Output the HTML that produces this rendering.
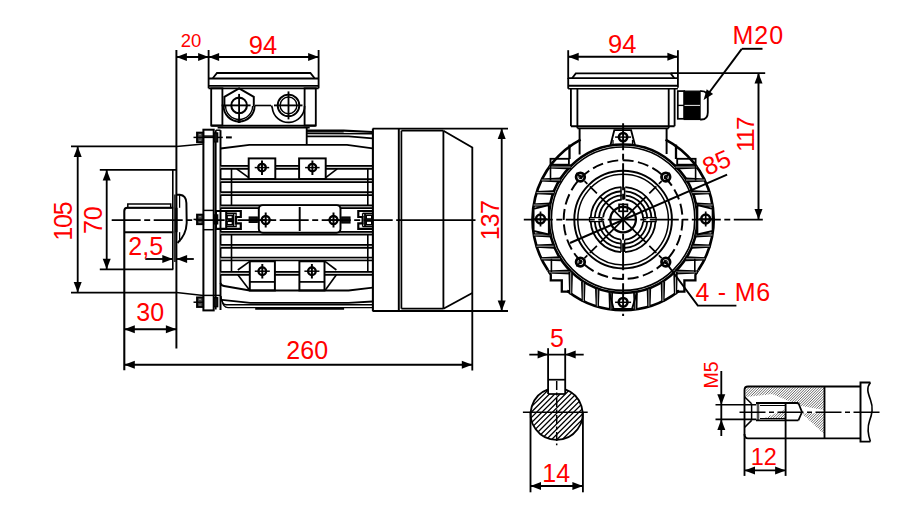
<!DOCTYPE html>
<html><head><meta charset="utf-8"><style>
html,body{margin:0;padding:0;background:#fff;}
svg{display:block;}
text{font-family:"Liberation Sans",sans-serif;fill:#ff0000;stroke:none;}
</style></head><body>
<svg width="905" height="506" viewBox="0 0 905 506" stroke="#000" stroke-linecap="butt">
<line x1="176.4" y1="50.0" x2="176.4" y2="348.5" stroke-width="1.95" />
<line x1="208.6" y1="50.0" x2="208.6" y2="88.3" stroke-width="1.84" />
<line x1="318.6" y1="50.0" x2="318.6" y2="88.3" stroke-width="1.84" />
<line x1="176.4" y1="57.0" x2="318.6" y2="57.0" stroke-width="1.95" />
<polygon points="176.4,57.0 186.9,53.0 186.9,61.0" fill="#000" stroke="none"/>
<polygon points="208.6,57.0 198.1,61.0 198.1,53.0" fill="#000" stroke="none"/>
<polygon points="208.6,57.0 219.1,53.0 219.1,61.0" fill="#000" stroke="none"/>
<polygon points="318.6,57.0 308.1,61.0 308.1,53.0" fill="#000" stroke="none"/>
<text x="191.0" y="46.7" font-size="18.5" text-anchor="middle" >20</text>
<text x="263.0" y="53.7" font-size="25.5" text-anchor="middle" >94</text>
<polyline points="212.8,78.3 217.0,73.0 310.4,73.0 314.6,78.3" stroke-width="1.84" fill="none" />
<line x1="208.6" y1="78.5" x2="318.6" y2="78.5" stroke-width="1.84" />
<line x1="208.6" y1="85.8" x2="318.6" y2="85.8" stroke-width="1.84" />
<line x1="208.6" y1="88.3" x2="318.6" y2="88.3" stroke-width="1.84" />
<rect x="211.2" y="88.3" width="11.2" height="37.2" rx="0" stroke-width="1.84" fill="none"/>
<rect x="304.6" y="88.3" width="11.2" height="37.2" rx="0" stroke-width="1.84" fill="none"/>
<line x1="211.2" y1="125.7" x2="315.8" y2="125.7" stroke-width="1.95" />
<line x1="217.6" y1="127.8" x2="309.7" y2="127.8" stroke-width="1.38" />
<polyline points="224.4,106.5 224.4,96.8 239.1,88.4 253.8,96.8 253.8,106.5" stroke-width="1.95" fill="none" />
<path d="M223.6,106 A15.5,15.5 0 0 0 254.6,106" stroke-width="1.95" fill="none" />
<path d="M225.6,106 A13.5,13.5 0 0 0 252.6,106" stroke-width="1.38" fill="none" />
<line x1="239.1" y1="120.0" x2="239.1" y2="123.0" stroke-width="2.88" />
<circle cx="239.1" cy="105.4" r="7.8" stroke-width="2.07" fill="none" />
<line x1="221.6" y1="105.4" x2="250.6" y2="105.4" stroke-width="1.84" />
<line x1="239.1" y1="93.9" x2="239.1" y2="122.9" stroke-width="1.84" />
<line x1="255.0" y1="105.5" x2="271.0" y2="105.5" stroke-width="1.61" />
<circle cx="288.5" cy="105.4" r="10.8" stroke-width="1.84" fill="none" />
<circle cx="288.5" cy="105.4" r="8.4" stroke-width="1.38" fill="none" />
<line x1="274.0" y1="105.4" x2="302.5" y2="105.4" stroke-width="1.84" />
<line x1="288.5" y1="91.4" x2="288.5" y2="119.4" stroke-width="1.84" />
<path d="M271.5,105.4 L272.3,108 A16.2,16.2 0 0 0 304.6,106" stroke-width="1.72" fill="none" />
<rect x="203.4" y="129.7" width="10.3" height="180.7" stroke-width="2.0" fill="none" stroke-linejoin="miter"/>
<line x1="203.4" y1="136.1" x2="213.7" y2="136.1" stroke-width="1.49" />
<line x1="203.4" y1="295.4" x2="221.0" y2="295.4" stroke-width="1.49" />
<line x1="203.4" y1="210.4" x2="213.7" y2="210.4" stroke-width="1.49" />
<line x1="203.4" y1="229.7" x2="213.7" y2="229.7" stroke-width="1.49" />
<line x1="215.8" y1="130.2" x2="215.8" y2="309.5" stroke-width="1.61" />
<line x1="220.5" y1="130.2" x2="220.5" y2="310.0" stroke-width="1.95" />
<line x1="215.8" y1="130.2" x2="220.5" y2="130.2" stroke-width="1.49" />
<rect x="197.0" y="132.6" width="6.2" height="9.6" rx="0" stroke-width="1.84" fill="#444"/>
<line x1="199.2" y1="134.6" x2="200.8" y2="134.6" stroke-width="1.15" stroke="#999"/>
<line x1="199.2" y1="137.4" x2="200.8" y2="137.4" stroke-width="1.15" stroke="#999"/>
<line x1="199.2" y1="140.2" x2="200.8" y2="140.2" stroke-width="1.15" stroke="#999"/>
<line x1="193.5" y1="137.4" x2="222.8" y2="137.4" stroke-width="1.49" />
<rect x="213.9" y="132.9" width="3.8" height="9.0" rx="0" stroke-width="1.26" fill="#111"/>
<rect x="197.0" y="214.6" width="6.2" height="9.6" rx="0" stroke-width="1.84" fill="#444"/>
<line x1="199.2" y1="216.6" x2="200.8" y2="216.6" stroke-width="1.15" stroke="#999"/>
<line x1="199.2" y1="219.4" x2="200.8" y2="219.4" stroke-width="1.15" stroke="#999"/>
<line x1="199.2" y1="222.2" x2="200.8" y2="222.2" stroke-width="1.15" stroke="#999"/>
<line x1="193.5" y1="219.4" x2="203.0" y2="219.4" stroke-width="1.49" />
<rect x="213.9" y="214.9" width="3.8" height="9.0" rx="0" stroke-width="1.26" fill="#111"/>
<rect x="197.0" y="297.4" width="6.2" height="9.6" rx="0" stroke-width="1.84" fill="#444"/>
<line x1="199.2" y1="299.4" x2="200.8" y2="299.4" stroke-width="1.15" stroke="#999"/>
<line x1="199.2" y1="302.2" x2="200.8" y2="302.2" stroke-width="1.15" stroke="#999"/>
<line x1="199.2" y1="305.0" x2="200.8" y2="305.0" stroke-width="1.15" stroke="#999"/>
<line x1="193.5" y1="302.2" x2="203.0" y2="302.2" stroke-width="1.49" />
<rect x="213.9" y="297.7" width="3.8" height="9.0" rx="0" stroke-width="1.26" fill="#111"/>
<line x1="226.0" y1="137.4" x2="231.8" y2="137.4" stroke-width="2.07" />
<polyline points="220.5,148.5 249.4,144.8 347.0,144.8 372.6,148.3" stroke-width="1.84" fill="none" />
<line x1="306.7" y1="127.8" x2="306.7" y2="144.8" stroke-width="1.84" />
<polyline points="306.7,130.6 343.7,130.6 372.6,132.0" stroke-width="2.18" fill="none" />
<line x1="306.7" y1="131.9" x2="343.7" y2="131.9" stroke-width="1.38" />
<line x1="306.7" y1="133.5" x2="372.6" y2="133.7" stroke-width="1.61" />
<polyline points="306.7,136.4 348.7,136.4 372.6,138.4" stroke-width="1.72" fill="none" />
<rect x="220.5" y="165.9" width="152.1" height="3.0" fill="#ccc" stroke="none"/>
<line x1="220.5" y1="165.9" x2="372.6" y2="165.9" stroke-width="1.72" />
<line x1="220.5" y1="168.9" x2="372.6" y2="168.9" stroke-width="1.72" />
<rect x="220.5" y="179.2" width="152.1" height="3.0" fill="#ccc" stroke="none"/>
<line x1="220.5" y1="179.2" x2="372.6" y2="179.2" stroke-width="1.72" />
<line x1="220.5" y1="182.2" x2="372.6" y2="182.2" stroke-width="1.72" />
<rect x="220.5" y="192.2" width="152.1" height="3.0" fill="#ccc" stroke="none"/>
<line x1="220.5" y1="192.2" x2="372.6" y2="192.2" stroke-width="1.72" />
<line x1="220.5" y1="195.2" x2="372.6" y2="195.2" stroke-width="1.72" />
<rect x="220.5" y="205.4" width="152.1" height="2.8" fill="#ccc" stroke="none"/>
<line x1="220.5" y1="205.4" x2="372.6" y2="205.4" stroke-width="1.72" />
<line x1="220.5" y1="208.2" x2="372.6" y2="208.2" stroke-width="1.72" />
<rect x="220.5" y="231.8" width="152.1" height="2.9" fill="#ccc" stroke="none"/>
<line x1="220.5" y1="231.8" x2="372.6" y2="231.8" stroke-width="1.72" />
<line x1="220.5" y1="234.7" x2="372.6" y2="234.7" stroke-width="1.72" />
<rect x="220.5" y="244.8" width="152.1" height="3.0" fill="#ccc" stroke="none"/>
<line x1="220.5" y1="244.8" x2="372.6" y2="244.8" stroke-width="1.72" />
<line x1="220.5" y1="247.8" x2="372.6" y2="247.8" stroke-width="1.72" />
<rect x="220.5" y="257.5" width="152.1" height="3.0" fill="#ccc" stroke="none"/>
<line x1="220.5" y1="257.5" x2="372.6" y2="257.5" stroke-width="1.72" />
<line x1="220.5" y1="260.5" x2="372.6" y2="260.5" stroke-width="1.72" />
<rect x="220.5" y="271.8" width="152.1" height="3.0" fill="#ccc" stroke="none"/>
<line x1="220.5" y1="271.8" x2="372.6" y2="271.8" stroke-width="1.72" />
<line x1="220.5" y1="274.8" x2="372.6" y2="274.8" stroke-width="1.72" />
<line x1="231.5" y1="168.9" x2="231.5" y2="205.7" stroke-width="1.61" />
<line x1="231.5" y1="234.4" x2="231.5" y2="272.0" stroke-width="1.61" />
<line x1="367.8" y1="168.9" x2="367.8" y2="205.7" stroke-width="1.61" />
<line x1="367.8" y1="234.4" x2="367.8" y2="272.0" stroke-width="1.61" />
<rect x="248.7" y="158.4" width="26.6" height="20.6" rx="0" stroke-width="1.95" fill="#fff"/>
<circle cx="262.0" cy="167.6" r="3.8" stroke-width="2.30" fill="none" />
<line x1="254.7" y1="167.6" x2="269.2" y2="167.6" stroke-width="1.49" />
<line x1="262.0" y1="160.5" x2="262.0" y2="175.0" stroke-width="1.95" />
<rect x="299.1" y="158.4" width="26.6" height="20.6" rx="0" stroke-width="1.95" fill="#fff"/>
<circle cx="312.4" cy="167.6" r="3.8" stroke-width="2.30" fill="none" />
<line x1="305.1" y1="167.6" x2="319.6" y2="167.6" stroke-width="1.49" />
<line x1="312.4" y1="160.5" x2="312.4" y2="175.0" stroke-width="1.95" />
<line x1="236.7" y1="168.9" x2="248.7" y2="177.7" stroke-width="1.61" />
<line x1="337.2" y1="168.9" x2="325.7" y2="177.7" stroke-width="1.61" />
<rect x="249.8" y="261.3" width="25.1" height="29.2" rx="0" stroke-width="1.95" fill="#fff"/>
<line x1="249.8" y1="281.9" x2="274.9" y2="281.9" stroke-width="1.72" />
<circle cx="262.3" cy="271.2" r="3.8" stroke-width="2.30" fill="none" />
<line x1="254.8" y1="271.2" x2="269.8" y2="271.2" stroke-width="1.49" />
<line x1="262.3" y1="264.0" x2="262.3" y2="278.5" stroke-width="1.95" />
<rect x="299.4" y="261.3" width="25.1" height="29.2" rx="0" stroke-width="1.95" fill="#fff"/>
<line x1="299.4" y1="281.9" x2="324.5" y2="281.9" stroke-width="1.72" />
<circle cx="311.9" cy="271.2" r="3.8" stroke-width="2.30" fill="none" />
<line x1="304.4" y1="271.2" x2="319.4" y2="271.2" stroke-width="1.49" />
<line x1="311.9" y1="264.0" x2="311.9" y2="278.5" stroke-width="1.95" />
<line x1="237.8" y1="270.0" x2="249.8" y2="261.3" stroke-width="1.61" />
<line x1="237.8" y1="274.8" x2="249.8" y2="290.5" stroke-width="1.61" />
<line x1="336.4" y1="270.0" x2="325.0" y2="261.3" stroke-width="1.61" />
<line x1="336.4" y1="274.8" x2="325.0" y2="290.5" stroke-width="1.61" />
<path d="M220.5,283 Q221,285.5 224,286 L249.8,290.5 L348.6,290.5 L372.6,287.7" stroke-width="1.84" fill="none" />
<path d="M222,299.9 L250.2,302.9 L348.6,302.9 L372.6,301.5" stroke-width="1.84" fill="none" />
<path d="M221,296 Q221.5,304.5 226,304.8 L372.6,304.8" stroke-width="1.38" fill="none" />
<path d="M222,300 Q223,307.5 228,307.6 L372.6,307.6" stroke-width="1.38" fill="none" />
<line x1="255.2" y1="308.6" x2="344.1" y2="308.6" stroke-width="2.53" />
<rect x="258.8" y="205.1" width="81.7" height="27.7" rx="4" stroke-width="1.95" fill="#fff"/>
<circle cx="265.7" cy="220.0" r="4.0" stroke-width="2.30" fill="none" />
<line x1="259.7" y1="220.0" x2="271.7" y2="220.0" stroke-width="1.49" />
<line x1="265.7" y1="212.5" x2="265.7" y2="227.5" stroke-width="1.95" />
<circle cx="333.5" cy="220.0" r="4.0" stroke-width="2.30" fill="none" />
<line x1="327.5" y1="220.0" x2="339.5" y2="220.0" stroke-width="1.49" />
<line x1="333.5" y1="212.5" x2="333.5" y2="227.5" stroke-width="1.95" />
<line x1="299.7" y1="207.0" x2="299.7" y2="231.0" stroke-width="1.95" />
<path d="M215.9,211 L240.8,211 L240.8,217 L236.1,217 L236.1,223.3 L240.8,223.3 L240.8,228.9 L215.9,228.9 Z" stroke-width="2.18" fill="none" />
<line x1="226.2" y1="211.0" x2="226.2" y2="228.9" stroke-width="2.07" />
<polyline points="226.2,213.3 236.1,213.3 236.1,217.0" stroke-width="1.38" fill="none" />
<polyline points="226.2,226.6 236.1,226.6 236.1,223.3" stroke-width="1.38" fill="none" />
<line x1="233.7" y1="213.3" x2="233.7" y2="226.6" stroke-width="1.38" />
<rect x="227.0" y="215.4" width="5.5" height="3.6" rx="0" stroke-width="1.72" fill="none"/>
<rect x="227.0" y="221.2" width="5.5" height="3.6" rx="0" stroke-width="1.72" fill="none"/>
<path d="M373,211 L358.3,211 L358.3,217 L362.6,217 L362.6,223.3 L358.3,223.3 L358.3,228.9 L373,228.9" stroke-width="2.18" fill="none" />
<line x1="362.6" y1="213.3" x2="362.6" y2="217.0" stroke-width="1.38" />
<line x1="362.6" y1="223.3" x2="362.6" y2="226.6" stroke-width="1.38" />
<polyline points="362.6,213.3 372.5,213.3" stroke-width="1.38" fill="none" />
<polyline points="362.6,226.6 372.5,226.6" stroke-width="1.38" fill="none" />
<line x1="365.0" y1="213.3" x2="365.0" y2="226.6" stroke-width="1.84" />
<rect x="366.2" y="215.2" width="5.6" height="3.8" rx="0" stroke-width="1.61" fill="none"/>
<rect x="366.2" y="221.0" width="5.6" height="3.8" rx="0" stroke-width="1.61" fill="none"/>
<rect x="249.2" y="217.0" width="8.1" height="5.4" rx="0" stroke-width="1.15" fill="#111"/>
<rect x="341.7" y="217.0" width="8.3" height="6.0" rx="0" stroke-width="1.15" fill="#111"/>
<line x1="372.9" y1="128.6" x2="372.9" y2="311.2" stroke-width="2.07" />
<line x1="372.6" y1="128.6" x2="508.0" y2="128.6" stroke-width="1.84" />
<line x1="372.6" y1="311.0" x2="508.0" y2="311.0" stroke-width="1.84" />
<line x1="398.8" y1="128.6" x2="398.8" y2="311.0" stroke-width="1.95" />
<line x1="401.4" y1="130.7" x2="401.4" y2="308.7" stroke-width="1.72" />
<line x1="401.4" y1="130.7" x2="443.4" y2="130.7" stroke-width="1.84" />
<line x1="401.4" y1="308.7" x2="443.4" y2="308.7" stroke-width="1.84" />
<line x1="443.4" y1="130.7" x2="443.4" y2="308.7" stroke-width="1.84" />
<polyline points="443.4,130.7 472.3,147.5 472.3,370.5" stroke-width="1.84" fill="none" />
<line x1="443.4" y1="308.7" x2="472.3" y2="293.0" stroke-width="1.84" />
<line x1="501.7" y1="128.6" x2="501.7" y2="311.0" stroke-width="1.84" />
<polygon points="501.7,128.6 505.7,139.1 497.7,139.1" fill="#000" stroke="none"/>
<polygon points="501.7,311.0 497.7,300.5 505.7,300.5" fill="#000" stroke="none"/>
<text x="498.6" y="220.6" font-size="25" text-anchor="middle" transform="rotate(-90 498.6 220.6)" letter-spacing="-0.8">137</text>
<line x1="71.0" y1="146.4" x2="176.4" y2="146.4" stroke-width="1.84" />
<line x1="176.4" y1="146.4" x2="203.4" y2="144.0" stroke-width="1.49" />
<line x1="71.0" y1="292.6" x2="176.4" y2="292.6" stroke-width="1.84" />
<line x1="176.4" y1="292.6" x2="203.4" y2="295.4" stroke-width="1.49" />
<line x1="77.7" y1="146.4" x2="77.7" y2="292.6" stroke-width="1.84" />
<polygon points="77.7,146.4 81.7,156.9 73.7,156.9" fill="#000" stroke="none"/>
<polygon points="77.7,292.6 73.7,282.1 81.7,282.1" fill="#000" stroke="none"/>
<text x="72.5" y="221.7" font-size="25" text-anchor="middle" transform="rotate(-90 72.5 221.7)" letter-spacing="-1.2">105</text>
<line x1="99.8" y1="169.9" x2="177.0" y2="169.9" stroke-width="1.84" />
<line x1="99.8" y1="269.3" x2="173.3" y2="269.3" stroke-width="1.84" />
<line x1="106.7" y1="169.9" x2="106.7" y2="269.3" stroke-width="1.84" />
<polygon points="106.7,169.9 110.7,180.4 102.7,180.4" fill="#000" stroke="none"/>
<polygon points="106.7,269.3 102.7,258.8 110.7,258.8" fill="#000" stroke="none"/>
<text x="102.4" y="220.2" font-size="25" text-anchor="middle" transform="rotate(-90 102.4 220.2)" >70</text>
<path d="M124.3,370.3 L124.3,211 Q124.3,207.8 127.5,207.8 L173.3,207.8" stroke-width="2.07" fill="none" />
<line x1="124.3" y1="232.2" x2="173.3" y2="232.2" stroke-width="1.95" />
<rect x="127.8" y="204.0" width="42.9" height="3.8" rx="0" stroke-width="1.49" fill="none"/>
<line x1="172.8" y1="169.9" x2="172.8" y2="269.3" stroke-width="1.61" />
<line x1="174.9" y1="194.5" x2="174.9" y2="262.0" stroke-width="1.38" />
<line x1="176.4" y1="207.8" x2="176.4" y2="232.2" stroke-width="2.30" />
<path d="M176.4,194.7 L179.8,194.7 Q186.2,195.3 186.4,203 L186.7,223 Q186.2,235 177.5,243" stroke-width="1.95" fill="none" />
<line x1="179.6" y1="195.0" x2="179.6" y2="207.8" stroke-width="1.26" />
<line x1="179.6" y1="232.2" x2="179.6" y2="242.0" stroke-width="1.26" />
<line x1="111.7" y1="220.1" x2="400.0" y2="220.1" stroke-width="1.95" stroke-dasharray="29 3.5 6 3.5"/>
<line x1="398.0" y1="220.1" x2="475.5" y2="220.1" stroke-width="1.95" />
<line x1="145.3" y1="259.0" x2="172.8" y2="259.0" stroke-width="1.84" />
<polygon points="172.8,259.0 162.3,263.0 162.3,255.0" fill="#000" stroke="none"/>
<line x1="176.6" y1="259.0" x2="193.8" y2="259.0" stroke-width="1.84" />
<polygon points="176.6,259.0 187.1,255.0 187.1,263.0" fill="#000" stroke="none"/>
<text x="145.7" y="254.9" font-size="25" text-anchor="middle" >2,5</text>
<line x1="124.3" y1="329.3" x2="176.4" y2="329.3" stroke-width="1.95" />
<polygon points="124.3,329.3 134.8,325.3 134.8,333.3" fill="#000" stroke="none"/>
<polygon points="176.4,329.3 165.9,333.3 165.9,325.3" fill="#000" stroke="none"/>
<text x="150.2" y="320.9" font-size="25" text-anchor="middle" >30</text>
<line x1="124.3" y1="364.7" x2="472.3" y2="364.7" stroke-width="1.95" />
<polygon points="124.3,364.7 134.8,360.7 134.8,368.7" fill="#000" stroke="none"/>
<polygon points="472.3,364.7 461.8,368.7 461.8,360.7" fill="#000" stroke="none"/>
<text x="307.2" y="358.8" font-size="25" text-anchor="middle" >260</text>
<line x1="568.2" y1="50.2" x2="568.2" y2="79.0" stroke-width="1.84" />
<line x1="677.9" y1="50.2" x2="677.9" y2="87.7" stroke-width="1.84" />
<line x1="568.2" y1="56.8" x2="677.9" y2="56.8" stroke-width="1.95" />
<polygon points="568.2,56.8 578.7,52.8 578.7,60.8" fill="#000" stroke="none"/>
<polygon points="677.9,56.8 667.4,60.8 667.4,52.8" fill="#000" stroke="none"/>
<text x="622.3" y="53.2" font-size="25.5" text-anchor="middle" >94</text>
<text x="732.5" y="44.2" font-size="25" text-anchor="start" letter-spacing="1">M20</text>
<line x1="741.8" y1="48.8" x2="762.5" y2="48.8" stroke-width="1.95" />
<line x1="741.8" y1="48.8" x2="707.0" y2="95.5" stroke-width="1.95" />
<polygon points="703.6,100.1 706.7,89.3 713.1,94.1" fill="#000" stroke="none"/>
<polyline points="572.1,78.2 575.8,73.4 670.7,73.4 674.4,78.2" stroke-width="1.84" fill="none" />
<line x1="670.7" y1="73.1" x2="765.2" y2="73.1" stroke-width="1.95" />
<line x1="568.2" y1="78.2" x2="677.9" y2="78.2" stroke-width="1.84" />
<line x1="568.2" y1="85.7" x2="677.9" y2="85.7" stroke-width="1.95" />
<line x1="568.2" y1="88.7" x2="677.9" y2="88.7" stroke-width="1.61" />
<line x1="568.2" y1="78.2" x2="568.2" y2="88.7" stroke-width="1.84" />
<line x1="570.9" y1="88.7" x2="570.9" y2="126.2" stroke-width="1.84" />
<line x1="577.4" y1="88.7" x2="577.4" y2="128.2" stroke-width="1.84" />
<line x1="668.7" y1="88.7" x2="668.7" y2="128.2" stroke-width="1.84" />
<line x1="674.6" y1="88.7" x2="674.6" y2="126.2" stroke-width="1.84" />
<line x1="570.9" y1="126.2" x2="674.6" y2="126.2" stroke-width="1.95" />
<line x1="577.4" y1="128.4" x2="668.7" y2="128.4" stroke-width="1.72" />
<rect x="677.8" y="91.1" width="6.4" height="27.7" rx="0" stroke-width="1.72" fill="none"/>
<line x1="677.8" y1="105.4" x2="684.2" y2="105.4" stroke-width="1.38" />
<rect x="684.2" y="91.1" width="15.9" height="28.4" rx="0" stroke-width="1.15" fill="#000"/>
<line x1="684.5" y1="105.4" x2="700.0" y2="105.4" stroke-width="0.92" stroke="#fff"/>
<path d="M700.1,91.1 L701.5,91.1 Q707.8,91.1 707.8,98 L707.8,112.5 Q707.8,119.5 701.5,119.5 L700.1,119.5" stroke-width="1.84" fill="none" />
<line x1="758.5" y1="73.1" x2="758.5" y2="219.6" stroke-width="1.95" />
<polygon points="758.5,73.1 762.5,83.6 754.5,83.6" fill="#000" stroke="none"/>
<polygon points="758.5,219.6 754.5,209.1 762.5,209.1" fill="#000" stroke="none"/>
<text x="754.1" y="135.0" font-size="24" text-anchor="middle" transform="rotate(-90 754.1 135.0)" letter-spacing="-1.6">117</text>
<line x1="579.6" y1="128.4" x2="579.6" y2="154.5" stroke-width="1.95" />
<line x1="666.6" y1="128.4" x2="666.6" y2="154.0" stroke-width="1.95" />
<polyline points="610.4,145.5 614.3,130.2 631.1,130.2 635.1,145.5" stroke-width="1.84" fill="none" />
<line x1="613.0" y1="140.0" x2="613.0" y2="146.0" stroke-width="1.26" />
<line x1="632.5" y1="140.0" x2="632.5" y2="146.0" stroke-width="1.26" />
<circle cx="623.1" cy="137.1" r="4.2" stroke-width="2.53" fill="none" />
<line x1="615.1" y1="137.1" x2="631.1" y2="137.1" stroke-width="1.49" />
<circle cx="623.1" cy="218.7" r="74.2" stroke-width="2.64" fill="none" />
<circle cx="623.1" cy="218.7" r="71.7" stroke-width="1.61" fill="none" />
<path d="M665.6,139.6 A90.6,90.6 0 0 1 698.2,270.3" stroke-width="2.64" fill="none" />
<path d="M548.0,270.3 A90.6,90.6 0 0 1 580.6,139.6" stroke-width="2.64" fill="none" />
<path d="M678.9,291.0 A90.6,90.6 0 0 1 567.3,291.0" stroke-width="2.64" fill="none" />
<polyline points="548.0,270.3 550.8,274.8 550.8,280.3 561.8,280.3 561.8,291.6 571.6,291.6 567.3,291.0" stroke-width="2.30" fill="none" />
<polyline points="698.2,270.3 695.4,274.8 695.4,280.3 684.4,280.3 684.4,291.6 674.6,291.6 678.9,291.0" stroke-width="2.30" fill="none" />
<polygon points="570.6,165.2 549.3,166.0 549.3,168.0 570.6,168.8" stroke-width="1.26" fill="#000" />
<line x1="570.6" y1="167.0" x2="549.3" y2="167.0" stroke-width="0.69" stroke="#fff"/>
<polygon points="675.6,165.2 696.9,166.0 696.9,168.0 675.6,168.8" stroke-width="1.26" fill="#000" />
<line x1="675.6" y1="167.0" x2="696.9" y2="167.0" stroke-width="0.69" stroke="#fff"/>
<polygon points="560.2,178.2 541.6,179.0 541.6,181.0 560.2,181.8" stroke-width="1.26" fill="#000" />
<line x1="560.2" y1="180.0" x2="541.6" y2="180.0" stroke-width="0.69" stroke="#fff"/>
<polygon points="686.0,178.2 704.6,179.0 704.6,181.0 686.0,181.8" stroke-width="1.26" fill="#000" />
<line x1="686.0" y1="180.0" x2="704.6" y2="180.0" stroke-width="0.69" stroke="#fff"/>
<polygon points="553.9,190.8 536.6,191.6 536.6,193.6 553.9,194.4" stroke-width="1.26" fill="#000" />
<line x1="553.9" y1="192.6" x2="536.6" y2="192.6" stroke-width="0.69" stroke="#fff"/>
<polygon points="692.3,190.8 709.6,191.6 709.6,193.6 692.3,194.4" stroke-width="1.26" fill="#000" />
<line x1="692.3" y1="192.6" x2="709.6" y2="192.6" stroke-width="0.69" stroke="#fff"/>
<polygon points="550.2,203.2 533.7,204.0 533.7,206.0 550.2,206.8" stroke-width="1.26" fill="#000" />
<line x1="550.2" y1="205.0" x2="533.7" y2="205.0" stroke-width="0.69" stroke="#fff"/>
<polygon points="696.0,203.2 712.5,204.0 712.5,206.0 696.0,206.8" stroke-width="1.26" fill="#000" />
<line x1="696.0" y1="205.0" x2="712.5" y2="205.0" stroke-width="0.69" stroke="#fff"/>
<polygon points="550.4,233.2 533.8,234.0 533.8,236.0 550.4,236.8" stroke-width="1.26" fill="#000" />
<line x1="550.4" y1="235.0" x2="533.8" y2="235.0" stroke-width="0.69" stroke="#fff"/>
<polygon points="695.8,233.2 712.4,234.0 712.4,236.0 695.8,236.8" stroke-width="1.26" fill="#000" />
<line x1="695.8" y1="235.0" x2="712.4" y2="235.0" stroke-width="0.69" stroke="#fff"/>
<polygon points="553.7,244.4 536.5,245.2 536.5,247.2 553.7,248.0" stroke-width="1.26" fill="#000" />
<line x1="553.7" y1="246.2" x2="536.5" y2="246.2" stroke-width="0.69" stroke="#fff"/>
<polygon points="692.5,244.4 709.7,245.2 709.7,247.2 692.5,248.0" stroke-width="1.26" fill="#000" />
<line x1="692.5" y1="246.2" x2="709.7" y2="246.2" stroke-width="0.69" stroke="#fff"/>
<polygon points="560.0,257.0 541.4,257.8 541.4,259.8 560.0,260.6" stroke-width="1.26" fill="#000" />
<line x1="560.0" y1="258.8" x2="541.4" y2="258.8" stroke-width="0.69" stroke="#fff"/>
<polygon points="686.2,257.0 704.8,257.8 704.8,259.8 686.2,260.6" stroke-width="1.26" fill="#000" />
<line x1="686.2" y1="258.8" x2="704.8" y2="258.8" stroke-width="0.69" stroke="#fff"/>
<polygon points="570.4,270.2 549.2,271.0 549.2,273.0 570.4,273.8" stroke-width="1.26" fill="#000" />
<line x1="570.4" y1="272.0" x2="549.2" y2="272.0" stroke-width="0.69" stroke="#fff"/>
<polygon points="675.8,270.2 697.0,271.0 697.0,273.0 675.8,273.8" stroke-width="1.26" fill="#000" />
<line x1="675.8" y1="272.0" x2="697.0" y2="272.0" stroke-width="0.69" stroke="#fff"/>
<polygon points="569.1,272.3 569.7,293.5 571.7,293.5 572.3,272.3" stroke-width="1.26" fill="#000" />
<line x1="570.7" y1="272.3" x2="570.7" y2="293.5" stroke-width="0.69" stroke="#fff"/>
<polygon points="673.9,272.3 674.5,293.5 676.5,293.5 677.1,272.3" stroke-width="1.26" fill="#000" />
<line x1="675.5" y1="272.3" x2="675.5" y2="293.5" stroke-width="0.69" stroke="#fff"/>
<polygon points="581.7,282.3 582.3,301.0 584.3,301.0 584.9,282.3" stroke-width="1.26" fill="#000" />
<line x1="583.3" y1="282.3" x2="583.3" y2="301.0" stroke-width="0.69" stroke="#fff"/>
<polygon points="661.3,282.3 661.9,301.0 663.9,301.0 664.5,282.3" stroke-width="1.26" fill="#000" />
<line x1="662.9" y1="282.3" x2="662.9" y2="301.0" stroke-width="0.69" stroke="#fff"/>
<polygon points="595.7,289.3 596.3,306.4 598.3,306.4 598.9,289.3" stroke-width="1.26" fill="#000" />
<line x1="597.3" y1="289.3" x2="597.3" y2="306.4" stroke-width="0.69" stroke="#fff"/>
<polygon points="647.3,289.3 647.9,306.4 649.9,306.4 650.5,289.3" stroke-width="1.26" fill="#000" />
<line x1="648.9" y1="289.3" x2="648.9" y2="306.4" stroke-width="0.69" stroke="#fff"/>
<polygon points="609.2,292.9 609.8,309.4 611.8,309.4 612.4,292.9" stroke-width="1.26" fill="#000" />
<line x1="610.8" y1="292.9" x2="610.8" y2="309.4" stroke-width="0.69" stroke="#fff"/>
<polygon points="633.8,292.9 634.4,309.4 636.4,309.4 637.0,292.9" stroke-width="1.26" fill="#000" />
<line x1="635.4" y1="292.9" x2="635.4" y2="309.4" stroke-width="0.69" stroke="#fff"/>
<line x1="551.4" y1="258.8" x2="551.4" y2="272.0" stroke-width="1.61" />
<line x1="694.8" y1="258.8" x2="694.8" y2="272.0" stroke-width="1.61" />
<rect x="550.5" y="158.8" width="18.4" height="5.9" rx="0" stroke-width="1.84" fill="none"/>
<rect x="677.2" y="158.8" width="18.4" height="5.9" rx="0" stroke-width="1.84" fill="none"/>
<line x1="569.5" y1="144.6" x2="569.5" y2="159.0" stroke-width="2.30" />
<line x1="676.0" y1="144.6" x2="676.0" y2="159.0" stroke-width="2.30" />
<line x1="550.5" y1="164.7" x2="550.5" y2="180.5" stroke-width="1.61" />
<line x1="695.6" y1="164.7" x2="695.6" y2="180.5" stroke-width="1.61" />
<polygon points="533.6,208.8 548.8,205.0 548.8,234.5 533.6,231.0" stroke-width="1.84" fill="#fff" />
<circle cx="540.5" cy="219.0" r="4.4" stroke-width="2.53" fill="none" />
<line x1="533.5" y1="219.0" x2="547.5" y2="219.0" stroke-width="1.49" />
<line x1="540.5" y1="211.5" x2="540.5" y2="226.5" stroke-width="1.72" />
<polygon points="712.6,208.8 697.4,205.0 697.4,234.5 712.6,231.0" stroke-width="1.84" fill="#fff" />
<circle cx="705.7" cy="219.0" r="4.4" stroke-width="2.53" fill="none" />
<line x1="698.7" y1="219.0" x2="712.7" y2="219.0" stroke-width="1.49" />
<line x1="705.7" y1="211.5" x2="705.7" y2="226.5" stroke-width="1.72" />
<polyline points="609.7,293.5 613.6,309.0 632.0,309.0 636.6,293.5" stroke-width="1.84" fill="none" />
<line x1="609.7" y1="293.0" x2="609.7" y2="309.0" stroke-width="1.61" />
<line x1="636.6" y1="293.0" x2="636.6" y2="309.0" stroke-width="1.61" />
<circle cx="623.1" cy="302.3" r="4.4" stroke-width="2.53" fill="none" />
<line x1="615.1" y1="302.3" x2="631.1" y2="302.3" stroke-width="1.49" />
<circle cx="623.1" cy="219.6" r="59.4" stroke-width="1.95" fill="none" stroke-dasharray="11 4.5"/>
<circle cx="623.1" cy="219.6" r="48.8" stroke-width="1.95" fill="none" />
<circle cx="623.1" cy="219.6" r="45.3" stroke-width="1.49" fill="none" />
<circle cx="623.1" cy="219.6" r="32.5" stroke-width="1.8" fill="none" stroke-dasharray="47.05 4.0" stroke-dashoffset="-2.00"/>
<circle cx="623.1" cy="219.6" r="28.4" stroke-width="1.8" fill="none" stroke-dasharray="40.61 4.0" stroke-dashoffset="-2.00"/>
<circle cx="623.1" cy="219.6" r="24.2" stroke-width="1.8" fill="none" stroke-dasharray="34.01 4.0" stroke-dashoffset="-2.00"/>
<circle cx="623.1" cy="219.6" r="20.1" stroke-width="1.8" fill="none" stroke-dasharray="27.57 4.0" stroke-dashoffset="-2.00"/>
<line x1="621.0" y1="187.3" x2="621.0" y2="199.5" stroke-width="1.49" />
<line x1="624.6" y1="187.3" x2="624.6" y2="199.5" stroke-width="1.49" />
<line x1="621.0" y1="239.7" x2="621.0" y2="252.0" stroke-width="1.49" />
<line x1="624.6" y1="239.7" x2="624.6" y2="252.0" stroke-width="1.49" />
<rect x="589.5" y="217.6" width="12.5" height="4.0" rx="0" stroke-width="1.26" fill="none"/>
<rect x="643.6" y="217.6" width="12.5" height="4.0" rx="0" stroke-width="1.26" fill="none"/>
<circle cx="623.1" cy="219.6" r="12.8" stroke-width="2.30" fill="none" />
<rect x="619.1" y="204.4" width="8.3" height="6.9" rx="0" stroke-width="1.72" fill="none"/>
<circle cx="580.4" cy="177.1" r="4.3" stroke-width="2.76" fill="none" />
<circle cx="580.4" cy="177.1" r="1.5" stroke-width="1.15" fill="none" />
<circle cx="580.4" cy="262.1" r="4.3" stroke-width="2.76" fill="none" />
<circle cx="580.4" cy="262.1" r="1.5" stroke-width="1.15" fill="none" />
<circle cx="665.8" cy="177.1" r="4.3" stroke-width="2.76" fill="none" />
<circle cx="665.8" cy="177.1" r="1.5" stroke-width="1.15" fill="none" />
<circle cx="665.8" cy="262.1" r="4.3" stroke-width="2.76" fill="none" />
<circle cx="665.8" cy="262.1" r="1.5" stroke-width="1.15" fill="none" />
<line x1="523.8" y1="219.6" x2="765.2" y2="219.6" stroke-width="1.95" stroke-dasharray="29 3.5 6 3.5"/>
<line x1="623.1" y1="123.2" x2="623.1" y2="316.0" stroke-width="1.95" stroke-dasharray="27 3.5 6 3.5"/>
<line x1="599.8" y1="196.3" x2="646.4" y2="242.9" stroke-width="1.72" />
<line x1="596.9" y1="193.4" x2="576.4" y2="172.9" stroke-width="1.72" stroke-dasharray="10 3.5 4 3.5"/>
<line x1="649.3" y1="245.8" x2="669.8" y2="266.3" stroke-width="1.72" stroke-dasharray="10 3.5 4 3.5"/>
<line x1="646.4" y1="196.3" x2="599.8" y2="242.9" stroke-width="1.72" />
<line x1="649.3" y1="193.4" x2="669.8" y2="172.9" stroke-width="1.72" stroke-dasharray="10 3.5 4 3.5"/>
<line x1="596.9" y1="245.8" x2="576.4" y2="266.3" stroke-width="1.72" stroke-dasharray="10 3.5 4 3.5"/>
<line x1="570.0" y1="243.0" x2="727.1" y2="174.7" stroke-width="1.95" />
<text x="720.0" y="170.5" font-size="25" text-anchor="middle" transform="rotate(-23.6 720.0 170.5)" >85</text>
<polyline points="665.5,262.0 697.8,305.6 736.4,305.6" stroke-width="1.95" fill="none" />
<text x="695.4" y="300.9" font-size="25" text-anchor="start" letter-spacing="0.8">4 - M6</text>
<text x="557.0" y="346.7" font-size="25" text-anchor="middle" >5</text>
<line x1="548.1" y1="348.2" x2="548.1" y2="394.0" stroke-width="1.84" />
<line x1="565.2" y1="348.2" x2="565.2" y2="394.0" stroke-width="1.84" />
<line x1="529.3" y1="354.6" x2="583.7" y2="354.6" stroke-width="1.84" />
<polygon points="548.1,354.6 537.6,358.6 537.6,350.6" fill="#000" stroke="none"/>
<polygon points="565.2,354.6 575.7,350.6 575.7,358.6" fill="#000" stroke="none"/>
<line x1="548.1" y1="379.7" x2="565.2" y2="379.7" stroke-width="1.72" />
<line x1="548.1" y1="394.0" x2="565.2" y2="394.0" stroke-width="1.72" />
<defs><clipPath id="kc"><path d="M548.1,394 L565.2,394 L565.2,389 A26,26 0 1 1 548.1,389 Z"/></clipPath></defs>
<g clip-path="url(#kc)"><path d="M466.4,440 L521.4,385 M471.7,440 L526.7,385 M477.0,440 L532.0,385 M482.3,440 L537.3,385 M487.6,440 L542.6,385 M492.9,440 L547.9,385 M498.2,440 L553.2,385 M503.5,440 L558.5,385 M508.8,440 L563.8,385 M514.1,440 L569.1,385 M519.4,440 L574.4,385 M524.7,440 L579.7,385 M530.0,440 L585.0,385 M535.3,440 L590.3,385 M540.6,440 L595.6,385 M545.9,440 L600.9,385 M551.2,440 L606.2,385 M556.5,440 L611.5,385 M561.8,440 L616.8,385 M567.1,440 L622.1,385 M572.4,440 L627.4,385 M577.7,440 L632.7,385 M583.0,440 L638.0,385 M588.3,440 L643.3,385 M593.6,440 L648.6,385 M598.9,440 L653.9,385" stroke-width="1.3" fill="none"/></g>
<path d="M548.1,389.3 A26,26 0 1 0 565.2,389.3" stroke-width="1.84" fill="none" />
<line x1="522.9" y1="412.3" x2="587.7" y2="412.3" stroke-width="1.38" />
<line x1="556.7" y1="381.0" x2="556.7" y2="445.2" stroke-width="1.49" stroke-dasharray="9 2.5 3 2.5"/>
<line x1="530.5" y1="412.0" x2="530.5" y2="492.3" stroke-width="1.84" />
<line x1="582.9" y1="412.0" x2="582.9" y2="492.3" stroke-width="1.84" />
<line x1="530.5" y1="486.0" x2="582.9" y2="486.0" stroke-width="1.84" />
<polygon points="530.5,486.0 541.0,482.0 541.0,490.0" fill="#000" stroke="none"/>
<polygon points="582.9,486.0 572.4,490.0 572.4,482.0" fill="#000" stroke="none"/>
<text x="556.2" y="481.9" font-size="25" text-anchor="middle" >14</text>
<text x="718.1" y="374.9" font-size="19.5" text-anchor="middle" transform="rotate(-90 718.1 374.9)" >M5</text>
<line x1="721.3" y1="371.0" x2="721.3" y2="436.0" stroke-width="1.84" />
<polygon points="721.3,404.8 717.3,394.3 725.3,394.3" fill="#000" stroke="none"/>
<polygon points="721.3,419.4 725.3,429.9 717.3,429.9" fill="#000" stroke="none"/>
<line x1="715.5" y1="404.8" x2="756.4" y2="404.8" stroke-width="1.61" />
<line x1="715.5" y1="419.4" x2="756.4" y2="419.4" stroke-width="1.61" />
<defs><clipPath id="tc"><path d="M745.5,387.3 L824,387.3 L824,434 L801.6,413.3 L824,413.3 L824,410 L800.3,405.7 L772,394.1 L745.5,397 Z M761.8,419 L786.2,408.9 L786.2,419.5 Z"/></clipPath></defs>
<g clip-path="url(#tc)"><path d="M655.0,440 L709.0,386 M657.6,440 L711.6,386 M660.2,440 L714.2,386 M662.8,440 L716.8,386 M665.4,440 L719.4,386 M668.0,440 L722.0,386 M670.6,440 L724.6,386 M673.2,440 L727.2,386 M675.8,440 L729.8,386 M678.4,440 L732.4,386 M681.0,440 L735.0,386 M683.6,440 L737.6,386 M686.2,440 L740.2,386 M688.8,440 L742.8,386 M691.4,440 L745.4,386 M694.0,440 L748.0,386 M696.6,440 L750.6,386 M699.2,440 L753.2,386 M701.8,440 L755.8,386 M704.4,440 L758.4,386 M707.0,440 L761.0,386 M709.6,440 L763.6,386 M712.2,440 L766.2,386 M714.8,440 L768.8,386 M717.4,440 L771.4,386 M720.0,440 L774.0,386 M722.6,440 L776.6,386 M725.2,440 L779.2,386 M727.8,440 L781.8,386 M730.4,440 L784.4,386 M733.0,440 L787.0,386 M735.6,440 L789.6,386 M738.2,440 L792.2,386 M740.8,440 L794.8,386 M743.4,440 L797.4,386 M746.0,440 L800.0,386 M748.6,440 L802.6,386 M751.2,440 L805.2,386 M753.8,440 L807.8,386 M756.4,440 L810.4,386 M759.0,440 L813.0,386 M761.6,440 L815.6,386 M764.2,440 L818.2,386 M766.8,440 L820.8,386 M769.4,440 L823.4,386 M772.0,440 L826.0,386 M774.6,440 L828.6,386 M777.2,440 L831.2,386 M779.8,440 L833.8,386 M782.4,440 L836.4,386 M785.0,440 L839.0,386 M787.6,440 L841.6,386 M790.2,440 L844.2,386 M792.8,440 L846.8,386 M795.4,440 L849.4,386 M798.0,440 L852.0,386 M800.6,440 L854.6,386 M803.2,440 L857.2,386 M805.8,440 L859.8,386 M808.4,440 L862.4,386 M811.0,440 L865.0,386 M813.6,440 L867.6,386 M816.2,440 L870.2,386 M818.8,440 L872.8,386 M821.4,440 L875.4,386" stroke-width="0.8" stroke="#444" fill="none"/></g>
<path d="M744.5,437.7 L744.5,390 Q744.5,386.5 748,386.5 L860.2,386.5" stroke-width="1.84" fill="none" />
<line x1="748.0" y1="438.3" x2="860.2" y2="438.3" stroke-width="1.84" />
<path d="M744.5,434 Q744.5,438.3 748,438.3" stroke-width="1.84" fill="none" />
<line x1="744.5" y1="396.7" x2="751.6" y2="403.7" stroke-width="1.49" />
<line x1="744.5" y1="427.5" x2="751.6" y2="420.4" stroke-width="1.49" />
<line x1="751.6" y1="403.7" x2="751.6" y2="420.4" stroke-width="1.49" />
<line x1="758.0" y1="403.5" x2="758.0" y2="420.5" stroke-width="2.53" stroke="#555"/>
<line x1="756.0" y1="403.0" x2="798.4" y2="403.0" stroke-width="1.84" />
<line x1="756.0" y1="420.4" x2="798.4" y2="420.4" stroke-width="1.84" />
<line x1="760.0" y1="405.5" x2="786.0" y2="405.5" stroke-width="1.03" />
<line x1="760.0" y1="418.5" x2="786.0" y2="418.5" stroke-width="1.03" />
<polyline points="798.4,403.0 802.0,412.1 798.4,420.4" stroke-width="1.72" fill="none" />
<line x1="785.6" y1="403.0" x2="785.6" y2="475.9" stroke-width="1.84" />
<line x1="824.5" y1="386.5" x2="824.5" y2="438.3" stroke-width="1.84" />
<path d="M870.4,382.4 L860.5,382.4 L860.5,441.6 L870.4,441.6" stroke-width="1.95" fill="none" />
<path d="M870.4,382.4 C866,388 868,393 870.5,400 C873.5,408 872,414 869.5,421 C867,428 868.5,436 870.4,441.6" stroke-width="1.61" fill="none" />
<line x1="739.5" y1="412.3" x2="881.0" y2="412.3" stroke-width="1.49" stroke-dasharray="26 3.5 5 3.5"/>
<line x1="744.5" y1="437.7" x2="744.5" y2="475.9" stroke-width="1.84" />
<line x1="744.5" y1="470.4" x2="785.6" y2="470.4" stroke-width="1.84" />
<polygon points="744.5,470.4 755.0,466.4 755.0,474.4" fill="#000" stroke="none"/>
<polygon points="785.6,470.4 775.1,474.4 775.1,466.4" fill="#000" stroke="none"/>
<text x="763.7" y="464.8" font-size="23.5" text-anchor="middle" >12</text>
</svg>
</body></html>
